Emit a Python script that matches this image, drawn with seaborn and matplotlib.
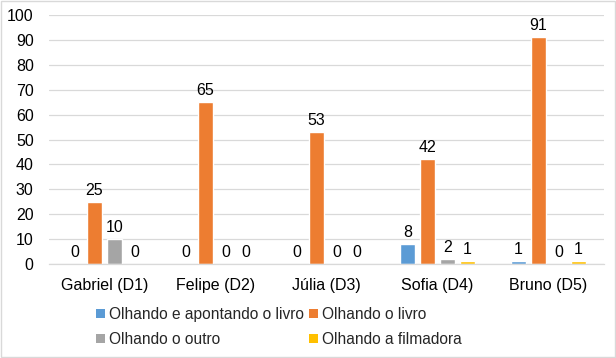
import matplotlib
matplotlib.use("Agg")
import matplotlib.pyplot as plt
import seaborn as sns
import pandas as pd
from matplotlib.patches import Patch

categories = ["Gabriel (D1)", "Felipe (D2)", "Júlia (D3)", "Sofia (D4)", "Bruno (D5)"]
series_names = ["Olhando e apontando o livro", "Olhando o livro", "Olhando o outro", "Olhando a filmadora"]
apontando = [0, 0, 0, 8, 1]
livro = [25, 65, 53, 42, 91]
outro = [10, 0, 0, 2, 0]
filmadora = [0, 0, 0, 1, 1]
colors = ["#5B9BD5", "#ED7D31", "#A5A5A5", "#FFC000"]

rows = []
for name, vals in zip(series_names, [apontando, livro, outro, filmadora]):
    for c, v in zip(categories, vals):
        rows.append({"cat": c, "val": v, "series": name})
df = pd.DataFrame(rows)

sns.set_theme(style="white")
plt.rcParams["font.family"] = ["Liberation Sans", "DejaVu Sans"]
FS = 11.5

fig = plt.figure(figsize=(6.16, 3.58), dpi=100)
ax = fig.add_axes([0.0795, 0.2626, 0.901, 0.6954])
sns.barplot(data=df, x="cat", y="val", hue="series", palette=colors,
            width=0.72, gap=0.25, ax=ax, legend=False, errorbar=None, saturation=1)

for cont in ax.containers:
    ax.bar_label(cont, fmt="%g", padding=3, fontsize=FS, color="#000000")

ax.set_ylim(0, 100)
ax.set_yticks(range(0, 101, 10))
ax.set_xlim(-0.5, 4.5)
ax.yaxis.grid(True, color="#D9D9D9", linewidth=0.9)
ax.set_axisbelow(True)
for s in ["top", "right", "left"]:
    ax.spines[s].set_visible(False)
ax.spines["bottom"].set_color("#D9D9D9")
ax.spines["bottom"].set_linewidth(0.9)
ax.set_xlabel("")
ax.set_ylabel("")
ax.tick_params(axis="both", length=0, labelsize=FS, colors="#000000")
ax.tick_params(axis="x", pad=10)
ax.tick_params(axis="y", pad=11)

handles = [Patch(facecolor=c, edgecolor="none") for c in colors]
order = [0, 2, 1, 3]
fig.legend([handles[i] for i in order], [series_names[i] for i in order],
           ncol=2, loc="upper left", bbox_to_anchor=(0.156, 0.142), frameon=False,
           fontsize=11.2, handlelength=0.55, handleheight=0.55, handletextpad=0.3,
           columnspacing=0.3, labelspacing=0.62, borderpad=0, borderaxespad=0)

border = plt.Rectangle((0.001, 0.002), 0.997, 0.995, transform=fig.transFigure,
                       fill=False, edgecolor="#D9D9D9", linewidth=1)
fig.patches.append(border)

fig.savefig("out.png", dpi=100)
